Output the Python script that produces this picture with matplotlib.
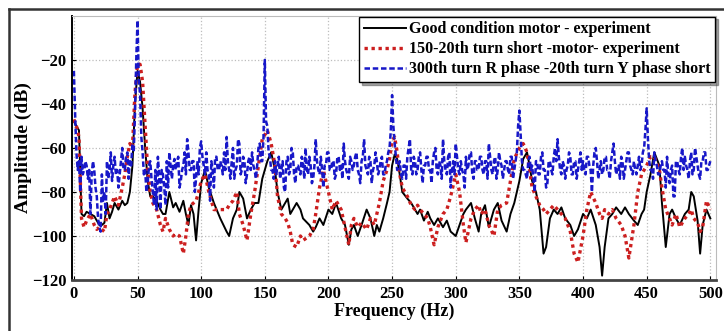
import numpy as np
import matplotlib
matplotlib.use("Agg")
import matplotlib.pyplot as plt
from matplotlib.lines import Line2D

# good condition motor (black)
good_f = [0, 2, 4, 6, 8, 10, 13, 16, 18, 20,
          22, 24, 26, 28, 30, 32, 35, 38, 40, 42,
          44, 46, 48, 50, 52, 54, 56, 58, 60, 62,
          65, 68, 70, 72, 75, 78, 80, 83, 86, 88,
          90, 92, 94, 96, 98, 100, 103, 106, 110, 115,
          120, 122, 125, 128, 130, 133, 136, 139, 142, 145,
          148, 152, 155, 158, 160, 163, 166, 168, 170, 172,
          175, 178, 180, 185, 188, 190, 193, 196, 200, 203,
          206, 210, 213, 216, 218, 220, 223, 226, 230, 233,
          236, 238, 240, 243, 246, 248, 250, 252, 254, 256,
          258, 262, 265, 268, 270, 272, 275, 278, 280, 283,
          286, 290, 293, 296, 300, 303, 306, 308, 312, 315,
          318, 320, 323, 326, 330, 333, 336, 340, 343, 346,
          350, 353, 356, 358, 360, 363, 366, 369, 371, 374,
          377, 380, 383, 386, 390, 393, 396, 400, 403, 406,
          410, 413, 415, 417, 420, 423, 426, 430, 433, 436,
          440, 443, 446, 448, 450, 453, 456, 460, 462, 465,
          468, 470, 473, 476, 480, 483, 485, 487, 490, 492,
          494, 497, 500]
good_db = [-48, -50, -52, -90, -91, -89, -90, -91, -93, -95,
           -95, -94, -85, -92, -89, -85, -88, -84, -86, -85,
           -80, -68, -40, -25, -30, -42, -60, -75, -82, -82,
           -84, -88, -90, -90, -80, -87, -85, -89, -84, -90,
           -95, -86, -90, -102, -88, -76, -70, -78, -85, -92,
           -98, -100, -92, -88, -80, -83, -92, -88, -85, -85,
           -74, -66, -62, -70, -80, -88, -85, -83, -90, -88,
           -85, -88, -92, -95, -98, -96, -92, -95, -88, -90,
           -85, -92, -95, -104, -97, -95, -100, -95, -88, -92,
           -100, -95, -98, -92, -85, -80, -68, -63, -65, -72,
           -80, -83, -85, -88, -90, -88, -93, -89, -92, -95,
           -92, -96, -93, -98, -100, -95, -90, -88, -85, -92,
           -98, -90, -86, -96, -88, -85, -93, -98, -90, -85,
           -75, -65, -62, -68, -75, -80, -88, -108, -105, -92,
           -88, -90, -87, -92, -95, -100, -97, -90, -92, -88,
           -95, -105, -118, -105, -92, -90, -87, -90, -87, -90,
           -93, -95, -90, -88, -80, -72, -62, -68, -85, -105,
           -90, -88, -92, -95, -90, -88, -80, -82, -93, -108,
           -95, -88, -92]

# 150-20th turn short (red), same frequencies as good_f
short_db = [-47, -50, -55, -92, -96, -93, -90, -95, -97, -96,
            -97, -98, -90, -88, -85, -82, -86, -78, -72, -64,
            -58, -60, -35, -22, -22, -30, -50, -70, -80, -85,
            -88, -95, -98, -92, -97, -100, -99, -100, -108, -100,
            -90, -86, -85, -84, -80, -75, -72, -80, -88, -88,
            -88, -86, -84, -80, -90, -95, -102, -90, -80, -68,
            -56, -52, -58, -68, -82, -90, -92, -94, -98, -104,
            -105, -100, -102, -100, -97, -90, -78, -70, -80, -88,
            -84, -88, -96, -104, -95, -92, -96, -94, -97, -92,
            -95, -90, -85, -75, -70, -65, -57, -55, -62, -72,
            -78, -82, -86, -88, -86, -88, -90, -92, -96, -104,
            -96, -90, -88, -82, -72, -80, -95, -103, -92, -88,
            -86, -90, -88, -95, -100, -88, -86, -85, -75, -65,
            -60, -58, -62, -70, -78, -82, -86, -88, -90, -88,
            -86, -88, -90, -92, -98, -108, -112, -100, -88, -80,
            -85, -90, -92, -88, -90, -88, -92, -95, -100, -110,
            -95, -80, -72, -70, -68, -64, -64, -70, -78, -88,
            -92, -95, -90, -96, -92, -90, -88, -92, -94, -98,
            -96, -84, -88]

# 300th turn R phase - 20th turn Y phase short (blue), one value per Hz from 0 Hz
phase_db = [-25, -45, -62, -70, -66, -80, -64, -72, -70, -66, -68, -74, -70, -90, -72, -66, -70, -78, -82, -92,
            -96, -98, -72, -84, -80, -90, -66, -74, -70, -62, -75, -68, -64, -72, -70, -78, -72, -66, -60, -70,
            -70, -64, -62, -74, -66, -68, -58, -62, -45, -20, -2, -30, -35, -55, -62, -72, -70, -80, -76, -68,
            -66, -74, -80, -86, -70, -88, -64, -72, -88, -70, -72, -78, -86, -66, -78, -62, -68, -74, -68, -65,
            -70, -66, -64, -78, -75, -70, -68, -62, -72, -56, -62, -70, -70, -66, -66, -80, -74, -66, -72, -60,
            -57, -64, -68, -72, -62, -70, -72, -84, -66, -70, -78, -64, -64, -70, -70, -66, -68, -72, -62, -70,
            -55, -66, -70, -74, -66, -60, -74, -70, -68, -56, -58, -72, -70, -64, -66, -76, -72, -66, -64, -70,
            -62, -68, -70, -74, -68, -60, -58, -66, -66, -55, -20, -48, -50, -62, -64, -70, -70, -74, -66, -72,
            -68, -64, -74, -70, -66, -78, -80, -66, -64, -72, -70, -60, -62, -72, -76, -68, -68, -70, -72, -64,
            -66, -74, -60, -70, -72, -64, -68, -76, -74, -68, -56, -66, -70, -72, -64, -70, -78, -68, -68, -62,
            -62, -70, -70, -66, -66, -74, -72, -64, -64, -70, -68, -74, -58, -66, -70, -72, -74, -64, -66, -70,
            -68, -64, -62, -70, -72, -76, -66, -64, -56, -68, -70, -72, -64, -66, -76, -70, -68, -62, -66, -72,
            -70, -66, -64, -72, -72, -68, -66, -62, -60, -52, -36, -50, -58, -64, -70, -68, -66, -72, -74, -68,
            -68, -74, -64, -60, -56, -70, -72, -64, -66, -72, -70, -64, -62, -70, -76, -68, -68, -64, -64, -70,
            -70, -76, -66, -62, -60, -70, -72, -66, -68, -74, -56, -66, -70, -72, -64, -62, -78, -70, -66, -72,
            -58, -64, -70, -72, -66, -70, -72, -78, -64, -70, -68, -62, -62, -72, -74, -66, -66, -70, -70, -64,
            -64, -70, -72, -66, -66, -74, -58, -64, -70, -72, -66, -64, -74, -70, -62, -66, -68, -74, -70, -66,
            -66, -70, -72, -64, -64, -74, -70, -66, -62, -50, -43, -54, -66, -70, -70, -72, -74, -66, -64, -70,
            -68, -74, -80, -66, -66, -72, -72, -64, -62, -70, -70, -78, -76, -66, -66, -70, -72, -64, -60, -66,
            -56, -64, -70, -72, -66, -68, -74, -70, -68, -62, -64, -72, -72, -66, -66, -74, -70, -66, -62, -70,
            -66, -70, -72, -64, -64, -68, -70, -80, -68, -62, -60, -66, -74, -70, -66, -72, -70, -64, -64, -70,
            -70, -74, -66, -62, -58, -66, -72, -70, -68, -74, -64, -66, -74, -70, -66, -62, -62, -68, -70, -72,
            -66, -70, -72, -68, -64, -70, -68, -62, -60, -52, -42, -56, -66, -70, -70, -74, -62, -66, -68, -72,
            -72, -68, -66, -70, -70, -78, -64, -72, -76, -70, -68, -82, -82, -66, -66, -70, -72, -64, -60, -70,
            -64, -68, -70, -74, -66, -62, -72, -70, -60, -64, -68, -72, -74, -66, -66, -62, -62, -70, -70, -68,
            -66]
phase_f = np.arange(len(phase_db))

labels = ["Good condition motor - experiment",
          "150-20th turn short -motor- experiment",
          "300th turn R phase -20th turn Y phase short"]

serif = "Liberation Serif"

fig = plt.figure(figsize=(7.24, 3.31), dpi=100)
ax = fig.add_axes([0.0994, 0.154, 0.8896, 0.798])

ax.plot(good_f, good_db, color="black", lw=1.4, label=labels[0])
ax.plot(good_f, short_db, color="#cc1f1f", lw=2.4, ls=(0, (1, 1.1)), label=labels[1])
ax.plot(phase_f, phase_db, color="#1717c8", lw=1.8, ls=(0, (2.2, 1.1)), label=labels[2])

ax.set_xlim(-1.5, 504.5)
ax.set_ylim(-120, 0)
ax.set_xticks(np.arange(0, 501, 50))
ax.set_yticks(np.arange(-120, -19, 20))
ax.grid(True, color="#bdbdbd", ls=":", lw=0.9)
ax.tick_params(direction="in", length=3, width=0.8, pad=4)
for t in ax.get_xticklabels() + ax.get_yticklabels():
    t.set_fontfamily(serif)
    t.set_fontweight("bold")
    t.set_fontsize(12)

ax.spines["left"].set_linewidth(1.4)
ax.spines["bottom"].set_linewidth(2.0)
ax.spines["bottom"].set_color("#444444")
ax.spines["top"].set_color("#bbbbbb")
ax.spines["right"].set_color("#bbbbbb")
ax.spines["top"].set_linewidth(0.8)
ax.spines["right"].set_linewidth(0.8)

ax.set_xlabel("Frequency (Hz)", family=serif, weight="bold", fontsize=13, labelpad=1)
ax.set_ylabel("Amplitude (dB)", family=serif, weight="bold", fontsize=14, labelpad=0)

leg = ax.legend(loc="upper right", prop={"family": serif, "weight": "bold", "size": 11.5},
                frameon=True, fancybox=False, shadow=True, borderaxespad=0.05,
                handlelength=2.6, handletextpad=0.2, labelspacing=0.25,
                borderpad=0.3)
leg.get_frame().set_edgecolor("black")
leg.get_frame().set_linewidth(1.0)
leg.get_frame().set_alpha(1)

# outer frame of the picture
fig.add_artist(Line2D([9 / 724, 9 / 724], [0, 1 - 9 / 331], color="#333333", lw=1.8))
fig.add_artist(Line2D([9 / 724, 1], [1 - 9 / 331, 1 - 9 / 331], color="#333333", lw=1.8))

fig.savefig("out.png", dpi=100)
